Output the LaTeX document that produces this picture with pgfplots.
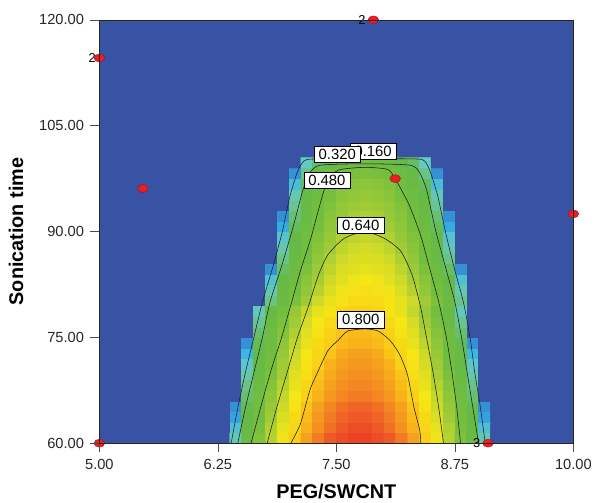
\documentclass[border=0pt]{standalone}
\usepackage{fontspec}
\setmainfont{Liberation Sans}
\usepackage{pgfplots}
\pgfplotsset{compat=1.18}
\definecolor{bgblue}{RGB}{57,83,164}
\definecolor{dotred}{RGB}{236,30,36}
\definecolor{dotedge}{RGB}{150,20,20}
\definecolor{navyline}{RGB}{20,28,70}
\tikzset{
  cline/.style={black!90, line width=0.55bp, smooth, tension=0.4},
  clab/.style={fill=white, draw=black, line width=0.5bp, inner xsep=4.5bp, inner ysep=2.8bp, font=\fontsize{15}{15}\selectfont},
}
\begin{document}
\begin{tikzpicture}
\begin{axis}[
  at={(0,0)}, anchor=south west,
  scale only axis, width=477bp, height=426bp,
  xmin=5, xmax=10, ymin=60, ymax=120,
  xtick={5,6.25,7.5,8.75,10}, xticklabels={5.00,6.25,7.50,8.75,10.00},
  ytick={60,75,90,105,120}, yticklabels={60.00,75.00,90.00,105.00,120.00},
  tick align=outside, major tick length=9bp, xtick pos=bottom, ytick pos=left,
  tick style={color=black!70, line width=0.6bp},
  axis line style={line width=0.7bp, black!85},
  tick label style={font=\fontsize{14.8}{16}\selectfont, color=black!85},
  xticklabel style={yshift=-4bp},
  yticklabel style={xshift=-3bp},
  xlabel={PEG/SWCNT}, ylabel={Sonication time},
  every axis x label/.style={at={(axis description cs:0.5,-0.114)}, anchor=center, font=\bfseries\fontsize{20}{22}\selectfont},
  every axis y label/.style={at={(axis description cs:-0.176,0.5)}, anchor=center, rotate=90, font=\bfseries\fontsize{20}{22}\selectfont},
  axis background/.style={fill=bgblue},
  colormap={dx}{rgb255(0pt)=(57,83,164); rgb255(6pt)=(52,128,202); rgb255(12pt)=(55,180,228); rgb255(19pt)=(100,200,195); rgb255(26pt)=(105,195,135); rgb255(33pt)=(100,185,72); rgb255(50pt)=(115,190,62); rgb255(60pt)=(160,203,55); rgb255(66pt)=(205,218,42); rgb255(72pt)=(245,230,22); rgb255(78pt)=(250,205,22); rgb255(82pt)=(247,170,28); rgb255(86pt)=(244,135,34); rgb255(89pt)=(240,100,40); rgb255(93pt)=(233,55,38)},
  point meta min=0, point meta max=0.93,
  clip=false, set layers, axis on top,
]
\addplot[matrix plot*, mesh/cols=24, point meta=explicit] table[x index=0, y index=1, meta index=2, row sep=\\] {
6.3125 60.75 0\\ 6.4375 60.75 0.21\\ 6.5625 60.75 0.40\\ 6.6875 60.75 0.53\\ 6.8125 60.75 0.63\\ 6.9375 60.75 0.71\\ 7.0625 60.75 0.78\\ 7.1875 60.75 0.83\\ 7.3125 60.75 0.87\\ 7.4375 60.75 0.90\\ 7.5625 60.75 0.91\\ 7.6875 60.75 0.92\\ 7.8125 60.75 0.92\\ 7.9375 60.75 0.91\\ 8.0625 60.75 0.90\\ 8.1875 60.75 0.87\\ 8.3125 60.75 0.83\\ 8.4375 60.75 0.78\\ 8.5625 60.75 0.71\\ 8.6875 60.75 0.63\\ 8.8125 60.75 0.53\\ 8.9375 60.75 0.40\\ 9.0625 60.75 0.21\\ 9.1875 60.75 0\\
6.3125 62.25 0\\ 6.4375 62.25 0.16\\ 6.5625 62.25 0.37\\ 6.6875 62.25 0.51\\ 6.8125 62.25 0.62\\ 6.9375 62.25 0.70\\ 7.0625 62.25 0.76\\ 7.1875 62.25 0.81\\ 7.3125 62.25 0.85\\ 7.4375 62.25 0.88\\ 7.5625 62.25 0.90\\ 7.6875 62.25 0.91\\ 7.8125 62.25 0.91\\ 7.9375 62.25 0.90\\ 8.0625 62.25 0.88\\ 8.1875 62.25 0.85\\ 8.3125 62.25 0.81\\ 8.4375 62.25 0.76\\ 8.5625 62.25 0.70\\ 8.6875 62.25 0.62\\ 8.8125 62.25 0.51\\ 8.9375 62.25 0.37\\ 9.0625 62.25 0.16\\ 9.1875 62.25 0\\
6.3125 63.75 0\\ 6.4375 63.75 0.10\\ 6.5625 63.75 0.34\\ 6.6875 63.75 0.49\\ 6.8125 63.75 0.60\\ 6.9375 63.75 0.68\\ 7.0625 63.75 0.75\\ 7.1875 63.75 0.80\\ 7.3125 63.75 0.84\\ 7.4375 63.75 0.87\\ 7.5625 63.75 0.89\\ 7.6875 63.75 0.90\\ 7.8125 63.75 0.90\\ 7.9375 63.75 0.89\\ 8.0625 63.75 0.87\\ 8.1875 63.75 0.84\\ 8.3125 63.75 0.80\\ 8.4375 63.75 0.75\\ 8.5625 63.75 0.68\\ 8.6875 63.75 0.60\\ 8.8125 63.75 0.49\\ 8.9375 63.75 0.34\\ 9.0625 63.75 0.10\\ 9.1875 63.75 0\\
6.3125 65.25 0\\ 6.4375 65.25 0.08\\ 6.5625 65.25 0.32\\ 6.6875 65.25 0.47\\ 6.8125 65.25 0.58\\ 6.9375 65.25 0.66\\ 7.0625 65.25 0.73\\ 7.1875 65.25 0.79\\ 7.3125 65.25 0.83\\ 7.4375 65.25 0.86\\ 7.5625 65.25 0.88\\ 7.6875 65.25 0.89\\ 7.8125 65.25 0.89\\ 7.9375 65.25 0.88\\ 8.0625 65.25 0.86\\ 8.1875 65.25 0.83\\ 8.3125 65.25 0.79\\ 8.4375 65.25 0.73\\ 8.5625 65.25 0.66\\ 8.6875 65.25 0.58\\ 8.8125 65.25 0.47\\ 8.9375 65.25 0.32\\ 9.0625 65.25 0.08\\ 9.1875 65.25 0\\
6.3125 66.75 0\\ 6.4375 66.75 0\\ 6.5625 66.75 0.29\\ 6.6875 66.75 0.45\\ 6.8125 66.75 0.56\\ 6.9375 66.75 0.65\\ 7.0625 66.75 0.72\\ 7.1875 66.75 0.77\\ 7.3125 66.75 0.81\\ 7.4375 66.75 0.84\\ 7.5625 66.75 0.86\\ 7.6875 66.75 0.87\\ 7.8125 66.75 0.87\\ 7.9375 66.75 0.86\\ 8.0625 66.75 0.84\\ 8.1875 66.75 0.81\\ 8.3125 66.75 0.77\\ 8.4375 66.75 0.72\\ 8.5625 66.75 0.65\\ 8.6875 66.75 0.56\\ 8.8125 66.75 0.45\\ 8.9375 66.75 0.29\\ 9.0625 66.75 0\\ 9.1875 66.75 0\\
6.3125 68.25 0\\ 6.4375 68.25 0\\ 6.5625 68.25 0.26\\ 6.6875 68.25 0.42\\ 6.8125 68.25 0.54\\ 6.9375 68.25 0.63\\ 7.0625 68.25 0.70\\ 7.1875 68.25 0.76\\ 7.3125 68.25 0.80\\ 7.4375 68.25 0.83\\ 7.5625 68.25 0.85\\ 7.6875 68.25 0.86\\ 7.8125 68.25 0.86\\ 7.9375 68.25 0.85\\ 8.0625 68.25 0.83\\ 8.1875 68.25 0.80\\ 8.3125 68.25 0.76\\ 8.4375 68.25 0.70\\ 8.5625 68.25 0.63\\ 8.6875 68.25 0.54\\ 8.8125 68.25 0.42\\ 8.9375 68.25 0.26\\ 9.0625 68.25 0\\ 9.1875 68.25 0\\
6.3125 69.75 0\\ 6.4375 69.75 0\\ 6.5625 69.75 0.22\\ 6.6875 69.75 0.40\\ 6.8125 69.75 0.52\\ 6.9375 69.75 0.61\\ 7.0625 69.75 0.69\\ 7.1875 69.75 0.74\\ 7.3125 69.75 0.79\\ 7.4375 69.75 0.82\\ 7.5625 69.75 0.84\\ 7.6875 69.75 0.85\\ 7.8125 69.75 0.85\\ 7.9375 69.75 0.84\\ 8.0625 69.75 0.82\\ 8.1875 69.75 0.79\\ 8.3125 69.75 0.74\\ 8.4375 69.75 0.69\\ 8.5625 69.75 0.61\\ 8.6875 69.75 0.52\\ 8.8125 69.75 0.40\\ 8.9375 69.75 0.22\\ 9.0625 69.75 0\\ 9.1875 69.75 0\\
6.3125 71.25 0\\ 6.4375 71.25 0\\ 6.5625 71.25 0.18\\ 6.6875 71.25 0.37\\ 6.8125 71.25 0.50\\ 6.9375 71.25 0.60\\ 7.0625 71.25 0.67\\ 7.1875 71.25 0.73\\ 7.3125 71.25 0.77\\ 7.4375 71.25 0.81\\ 7.5625 71.25 0.83\\ 7.6875 71.25 0.84\\ 7.8125 71.25 0.84\\ 7.9375 71.25 0.83\\ 8.0625 71.25 0.81\\ 8.1875 71.25 0.77\\ 8.3125 71.25 0.73\\ 8.4375 71.25 0.67\\ 8.5625 71.25 0.60\\ 8.6875 71.25 0.50\\ 8.8125 71.25 0.37\\ 8.9375 71.25 0.18\\ 9.0625 71.25 0\\ 9.1875 71.25 0\\
6.3125 72.75 0\\ 6.4375 72.75 0\\ 6.5625 72.75 0.13\\ 6.6875 72.75 0.35\\ 6.8125 72.75 0.48\\ 6.9375 72.75 0.58\\ 7.0625 72.75 0.66\\ 7.1875 72.75 0.72\\ 7.3125 72.75 0.76\\ 7.4375 72.75 0.79\\ 7.5625 72.75 0.82\\ 7.6875 72.75 0.83\\ 7.8125 72.75 0.83\\ 7.9375 72.75 0.82\\ 8.0625 72.75 0.79\\ 8.1875 72.75 0.76\\ 8.3125 72.75 0.72\\ 8.4375 72.75 0.66\\ 8.5625 72.75 0.58\\ 8.6875 72.75 0.48\\ 8.8125 72.75 0.35\\ 8.9375 72.75 0.13\\ 9.0625 72.75 0\\ 9.1875 72.75 0\\
6.3125 74.25 0\\ 6.4375 74.25 0\\ 6.5625 74.25 0.08\\ 6.6875 74.25 0.32\\ 6.8125 74.25 0.46\\ 6.9375 74.25 0.56\\ 7.0625 74.25 0.64\\ 7.1875 74.25 0.70\\ 7.3125 74.25 0.75\\ 7.4375 74.25 0.78\\ 7.5625 74.25 0.80\\ 7.6875 74.25 0.81\\ 7.8125 74.25 0.81\\ 7.9375 74.25 0.80\\ 8.0625 74.25 0.78\\ 8.1875 74.25 0.75\\ 8.3125 74.25 0.70\\ 8.4375 74.25 0.64\\ 8.5625 74.25 0.56\\ 8.6875 74.25 0.46\\ 8.8125 74.25 0.32\\ 8.9375 74.25 0.08\\ 9.0625 74.25 0\\ 9.1875 74.25 0\\
6.3125 75.75 0\\ 6.4375 75.75 0\\ 6.5625 75.75 0\\ 6.6875 75.75 0.29\\ 6.8125 75.75 0.44\\ 6.9375 75.75 0.54\\ 7.0625 75.75 0.62\\ 7.1875 75.75 0.69\\ 7.3125 75.75 0.73\\ 7.4375 75.75 0.77\\ 7.5625 75.75 0.79\\ 7.6875 75.75 0.80\\ 7.8125 75.75 0.80\\ 7.9375 75.75 0.79\\ 8.0625 75.75 0.77\\ 8.1875 75.75 0.73\\ 8.3125 75.75 0.69\\ 8.4375 75.75 0.62\\ 8.5625 75.75 0.54\\ 8.6875 75.75 0.44\\ 8.8125 75.75 0.29\\ 8.9375 75.75 0\\ 9.0625 75.75 0\\ 9.1875 75.75 0\\
6.3125 77.25 0\\ 6.4375 77.25 0\\ 6.5625 77.25 0\\ 6.6875 77.25 0.25\\ 6.8125 77.25 0.41\\ 6.9375 77.25 0.52\\ 7.0625 77.25 0.60\\ 7.1875 77.25 0.67\\ 7.3125 77.25 0.72\\ 7.4375 77.25 0.75\\ 7.5625 77.25 0.77\\ 7.6875 77.25 0.79\\ 7.8125 77.25 0.79\\ 7.9375 77.25 0.77\\ 8.0625 77.25 0.75\\ 8.1875 77.25 0.72\\ 8.3125 77.25 0.67\\ 8.4375 77.25 0.60\\ 8.5625 77.25 0.52\\ 8.6875 77.25 0.41\\ 8.8125 77.25 0.25\\ 8.9375 77.25 0\\ 9.0625 77.25 0\\ 9.1875 77.25 0\\
6.3125 78.75 0\\ 6.4375 78.75 0\\ 6.5625 78.75 0\\ 6.6875 78.75 0.20\\ 6.8125 78.75 0.38\\ 6.9375 78.75 0.49\\ 7.0625 78.75 0.58\\ 7.1875 78.75 0.65\\ 7.3125 78.75 0.70\\ 7.4375 78.75 0.73\\ 7.5625 78.75 0.76\\ 7.6875 78.75 0.77\\ 7.8125 78.75 0.77\\ 7.9375 78.75 0.76\\ 8.0625 78.75 0.73\\ 8.1875 78.75 0.70\\ 8.3125 78.75 0.65\\ 8.4375 78.75 0.58\\ 8.5625 78.75 0.49\\ 8.6875 78.75 0.38\\ 8.8125 78.75 0.20\\ 8.9375 78.75 0\\ 9.0625 78.75 0\\ 9.1875 78.75 0\\
6.3125 80.25 0\\ 6.4375 80.25 0\\ 6.5625 80.25 0\\ 6.6875 80.25 0\\ 6.8125 80.25 0.26\\ 6.9375 80.25 0.41\\ 7.0625 80.25 0.52\\ 7.1875 80.25 0.60\\ 7.3125 80.25 0.66\\ 7.4375 80.25 0.70\\ 7.5625 80.25 0.73\\ 7.6875 80.25 0.75\\ 7.8125 80.25 0.75\\ 7.9375 80.25 0.75\\ 8.0625 80.25 0.73\\ 8.1875 80.25 0.70\\ 8.3125 80.25 0.66\\ 8.4375 80.25 0.60\\ 8.5625 80.25 0.52\\ 8.6875 80.25 0.41\\ 8.8125 80.25 0.26\\ 8.9375 80.25 0\\ 9.0625 80.25 0\\ 9.1875 80.25 0\\
6.3125 81.75 0\\ 6.4375 81.75 0\\ 6.5625 81.75 0\\ 6.6875 81.75 0\\ 6.8125 81.75 0.21\\ 6.9375 81.75 0.38\\ 7.0625 81.75 0.49\\ 7.1875 81.75 0.57\\ 7.3125 81.75 0.63\\ 7.4375 81.75 0.68\\ 7.5625 81.75 0.71\\ 7.6875 81.75 0.73\\ 7.8125 81.75 0.74\\ 7.9375 81.75 0.73\\ 8.0625 81.75 0.71\\ 8.1875 81.75 0.68\\ 8.3125 81.75 0.63\\ 8.4375 81.75 0.57\\ 8.5625 81.75 0.49\\ 8.6875 81.75 0.38\\ 8.8125 81.75 0.21\\ 8.9375 81.75 0\\ 9.0625 81.75 0\\ 9.1875 81.75 0\\
6.3125 83.25 0\\ 6.4375 83.25 0\\ 6.5625 83.25 0\\ 6.6875 83.25 0\\ 6.8125 83.25 0.16\\ 6.9375 83.25 0.34\\ 7.0625 83.25 0.46\\ 7.1875 83.25 0.55\\ 7.3125 83.25 0.61\\ 7.4375 83.25 0.66\\ 7.5625 83.25 0.69\\ 7.6875 83.25 0.71\\ 7.8125 83.25 0.72\\ 7.9375 83.25 0.71\\ 8.0625 83.25 0.69\\ 8.1875 83.25 0.66\\ 8.3125 83.25 0.61\\ 8.4375 83.25 0.55\\ 8.5625 83.25 0.46\\ 8.6875 83.25 0.34\\ 8.8125 83.25 0.16\\ 8.9375 83.25 0\\ 9.0625 83.25 0\\ 9.1875 83.25 0\\
6.3125 84.75 0\\ 6.4375 84.75 0\\ 6.5625 84.75 0\\ 6.6875 84.75 0\\ 6.8125 84.75 0.08\\ 6.9375 84.75 0.30\\ 7.0625 84.75 0.43\\ 7.1875 84.75 0.52\\ 7.3125 84.75 0.59\\ 7.4375 84.75 0.64\\ 7.5625 84.75 0.68\\ 7.6875 84.75 0.69\\ 7.8125 84.75 0.70\\ 7.9375 84.75 0.69\\ 8.0625 84.75 0.68\\ 8.1875 84.75 0.64\\ 8.3125 84.75 0.59\\ 8.4375 84.75 0.52\\ 8.5625 84.75 0.43\\ 8.6875 84.75 0.30\\ 8.8125 84.75 0.08\\ 8.9375 84.75 0\\ 9.0625 84.75 0\\ 9.1875 84.75 0\\
6.3125 86.25 0\\ 6.4375 86.25 0\\ 6.5625 86.25 0\\ 6.6875 86.25 0\\ 6.8125 86.25 0\\ 6.9375 86.25 0.26\\ 7.0625 86.25 0.40\\ 7.1875 86.25 0.50\\ 7.3125 86.25 0.57\\ 7.4375 86.25 0.62\\ 7.5625 86.25 0.66\\ 7.6875 86.25 0.68\\ 7.8125 86.25 0.68\\ 7.9375 86.25 0.68\\ 8.0625 86.25 0.66\\ 8.1875 86.25 0.62\\ 8.3125 86.25 0.57\\ 8.4375 86.25 0.50\\ 8.5625 86.25 0.40\\ 8.6875 86.25 0.26\\ 8.8125 86.25 0\\ 8.9375 86.25 0\\ 9.0625 86.25 0\\ 9.1875 86.25 0\\
6.3125 87.75 0\\ 6.4375 87.75 0\\ 6.5625 87.75 0\\ 6.6875 87.75 0\\ 6.8125 87.75 0\\ 6.9375 87.75 0.22\\ 7.0625 87.75 0.37\\ 7.1875 87.75 0.47\\ 7.3125 87.75 0.55\\ 7.4375 87.75 0.60\\ 7.5625 87.75 0.64\\ 7.6875 87.75 0.66\\ 7.8125 87.75 0.67\\ 7.9375 87.75 0.66\\ 8.0625 87.75 0.64\\ 8.1875 87.75 0.60\\ 8.3125 87.75 0.55\\ 8.4375 87.75 0.47\\ 8.5625 87.75 0.37\\ 8.6875 87.75 0.22\\ 8.8125 87.75 0\\ 8.9375 87.75 0\\ 9.0625 87.75 0\\ 9.1875 87.75 0\\
6.3125 89.25 0\\ 6.4375 89.25 0\\ 6.5625 89.25 0\\ 6.6875 89.25 0\\ 6.8125 89.25 0\\ 6.9375 89.25 0.17\\ 7.0625 89.25 0.34\\ 7.1875 89.25 0.45\\ 7.3125 89.25 0.53\\ 7.4375 89.25 0.58\\ 7.5625 89.25 0.62\\ 7.6875 89.25 0.64\\ 7.8125 89.25 0.65\\ 7.9375 89.25 0.64\\ 8.0625 89.25 0.62\\ 8.1875 89.25 0.58\\ 8.3125 89.25 0.53\\ 8.4375 89.25 0.45\\ 8.5625 89.25 0.34\\ 8.6875 89.25 0.17\\ 8.8125 89.25 0\\ 8.9375 89.25 0\\ 9.0625 89.25 0\\ 9.1875 89.25 0\\
6.3125 90.75 0\\ 6.4375 90.75 0\\ 6.5625 90.75 0\\ 6.6875 90.75 0\\ 6.8125 90.75 0\\ 6.9375 90.75 0.11\\ 7.0625 90.75 0.31\\ 7.1875 90.75 0.43\\ 7.3125 90.75 0.51\\ 7.4375 90.75 0.56\\ 7.5625 90.75 0.60\\ 7.6875 90.75 0.62\\ 7.8125 90.75 0.63\\ 7.9375 90.75 0.62\\ 8.0625 90.75 0.60\\ 8.1875 90.75 0.56\\ 8.3125 90.75 0.51\\ 8.4375 90.75 0.43\\ 8.5625 90.75 0.31\\ 8.6875 90.75 0.11\\ 8.8125 90.75 0\\ 8.9375 90.75 0\\ 9.0625 90.75 0\\ 9.1875 90.75 0\\
6.3125 92.25 0\\ 6.4375 92.25 0\\ 6.5625 92.25 0\\ 6.6875 92.25 0\\ 6.8125 92.25 0\\ 6.9375 92.25 0.08\\ 7.0625 92.25 0.28\\ 7.1875 92.25 0.40\\ 7.3125 92.25 0.49\\ 7.4375 92.25 0.55\\ 7.5625 92.25 0.58\\ 7.6875 92.25 0.61\\ 7.8125 92.25 0.62\\ 7.9375 92.25 0.61\\ 8.0625 92.25 0.58\\ 8.1875 92.25 0.55\\ 8.3125 92.25 0.49\\ 8.4375 92.25 0.40\\ 8.5625 92.25 0.28\\ 8.6875 92.25 0.08\\ 8.8125 92.25 0\\ 8.9375 92.25 0\\ 9.0625 92.25 0\\ 9.1875 92.25 0\\
6.3125 93.75 0\\ 6.4375 93.75 0\\ 6.5625 93.75 0\\ 6.6875 93.75 0\\ 6.8125 93.75 0\\ 6.9375 93.75 0\\ 7.0625 93.75 0.25\\ 7.1875 93.75 0.38\\ 7.3125 93.75 0.47\\ 7.4375 93.75 0.53\\ 7.5625 93.75 0.57\\ 7.6875 93.75 0.59\\ 7.8125 93.75 0.60\\ 7.9375 93.75 0.59\\ 8.0625 93.75 0.57\\ 8.1875 93.75 0.53\\ 8.3125 93.75 0.47\\ 8.4375 93.75 0.38\\ 8.5625 93.75 0.25\\ 8.6875 93.75 0\\ 8.8125 93.75 0\\ 8.9375 93.75 0\\ 9.0625 93.75 0\\ 9.1875 93.75 0\\
6.3125 95.25 0\\ 6.4375 95.25 0\\ 6.5625 95.25 0\\ 6.6875 95.25 0\\ 6.8125 95.25 0\\ 6.9375 95.25 0\\ 7.0625 95.25 0.21\\ 7.1875 95.25 0.35\\ 7.3125 95.25 0.44\\ 7.4375 95.25 0.51\\ 7.5625 95.25 0.55\\ 7.6875 95.25 0.57\\ 7.8125 95.25 0.58\\ 7.9375 95.25 0.57\\ 8.0625 95.25 0.55\\ 8.1875 95.25 0.51\\ 8.3125 95.25 0.44\\ 8.4375 95.25 0.35\\ 8.5625 95.25 0.21\\ 8.6875 95.25 0\\ 8.8125 95.25 0\\ 8.9375 95.25 0\\ 9.0625 95.25 0\\ 9.1875 95.25 0\\
6.3125 96.75 0\\ 6.4375 96.75 0\\ 6.5625 96.75 0\\ 6.6875 96.75 0\\ 6.8125 96.75 0\\ 6.9375 96.75 0\\ 7.0625 96.75 0.15\\ 7.1875 96.75 0.31\\ 7.3125 96.75 0.41\\ 7.4375 96.75 0.48\\ 7.5625 96.75 0.53\\ 7.6875 96.75 0.55\\ 7.8125 96.75 0.56\\ 7.9375 96.75 0.55\\ 8.0625 96.75 0.53\\ 8.1875 96.75 0.48\\ 8.3125 96.75 0.41\\ 8.4375 96.75 0.31\\ 8.5625 96.75 0.15\\ 8.6875 96.75 0\\ 8.8125 96.75 0\\ 8.9375 96.75 0\\ 9.0625 96.75 0\\ 9.1875 96.75 0\\
6.3125 98.25 0\\ 6.4375 98.25 0\\ 6.5625 98.25 0\\ 6.6875 98.25 0\\ 6.8125 98.25 0\\ 6.9375 98.25 0\\ 7.0625 98.25 0.08\\ 7.1875 98.25 0.26\\ 7.3125 98.25 0.37\\ 7.4375 98.25 0.44\\ 7.5625 98.25 0.49\\ 7.6875 98.25 0.51\\ 7.8125 98.25 0.52\\ 7.9375 98.25 0.51\\ 8.0625 98.25 0.49\\ 8.1875 98.25 0.44\\ 8.3125 98.25 0.37\\ 8.4375 98.25 0.26\\ 8.5625 98.25 0.08\\ 8.6875 98.25 0\\ 8.8125 98.25 0\\ 8.9375 98.25 0\\ 9.0625 98.25 0\\ 9.1875 98.25 0\\
6.3125 99.75 0\\ 6.4375 99.75 0\\ 6.5625 99.75 0\\ 6.6875 99.75 0\\ 6.8125 99.75 0\\ 6.9375 99.75 0\\ 7.0625 99.75 0\\ 7.1875 99.75 0.19\\ 7.3125 99.75 0.30\\ 7.4375 99.75 0.37\\ 7.5625 99.75 0.42\\ 7.6875 99.75 0.44\\ 7.8125 99.75 0.45\\ 7.9375 99.75 0.44\\ 8.0625 99.75 0.42\\ 8.1875 99.75 0.37\\ 8.3125 99.75 0.30\\ 8.4375 99.75 0.19\\ 8.5625 99.75 0\\ 8.6875 99.75 0\\ 8.8125 99.75 0\\ 8.9375 99.75 0\\ 9.0625 99.75 0\\ 9.1875 99.75 0\\
};
% contour 0.16
\addplot[cline, navyline] coordinates {(6.39,60) (6.46,65) (6.54,70) (6.63,75) (6.72,80) (6.83,85) (6.93,90) (7.01,95) (7.09,98.5) (7.16,100) (7.3,100.3) (8.3,100.3) (8.43,100) (8.49,98.5) (8.57,95) (8.65,90) (8.74,85) (8.84,80) (8.91,75) (8.96,70) (9.02,65) (9.07,60)};
% contour 0.32
\addplot[cline] coordinates {(6.46,60) (6.54,65) (6.63,70) (6.72,75) (6.80,80) (6.92,85) (7.03,90) (7.09,93) (7.15,96) (7.22,98.3) (7.33,99.4) (7.8,99.6) (8.28,99.4) (8.38,98.3) (8.45,96) (8.50,93) (8.55,90) (8.65,85) (8.75,80) (8.82,75) (8.88,70) (8.94,65) (9.00,60)};
% contour 0.48
\addplot[cline] coordinates {(6.60,60) (6.71,65.5) (6.81,70.3) (6.92,74.9) (7.02,79.6) (7.12,84.4) (7.23,89) (7.31,93) (7.40,97) (7.52,98.7) (7.8,99.1) (8.04,98.8) (8.12,97.5) (8.27,93.7) (8.39,89.4) (8.48,85) (8.58,80) (8.66,75) (8.72,70) (8.77,65) (8.81,60)};
% contour 0.64
\addplot[cline] coordinates {(6.77,60) (6.87,65) (6.98,70) (7.09,75) (7.20,79.2) (7.31,83.8) (7.41,86.7) (7.58,89.0) (7.80,90.0) (8.01,89.0) (8.18,87.2) (8.30,83.8) (8.39,79.2) (8.45,75) (8.52,70) (8.58,65) (8.63,60)};
% contour 0.80
\addplot[cline] coordinates {(7.02,60) (7.12,62.7) (7.22,67.5) (7.29,69.7) (7.41,73.1) (7.52,74.6) (7.62,75.9) (7.80,76.2) (7.94,75.9) (8.07,74.5) (8.17,72.5) (8.25,69.7) (8.32,65) (8.38,61.8) (8.39,60)};
% contour labels
\node[clab] at (axis cs:7.888,101.34) {0.160};
\node[clab] at (axis cs:7.51,100.9) {0.320};
\node[clab] at (axis cs:7.40,97.3) {0.480};
\node[clab] at (axis cs:7.757,90.9) {0.640};
\node[clab] at (axis cs:7.757,77.5) {0.800};
% design points
\addplot[only marks, mark=*, mark size=4bp, mark options={xscale=1.35, fill=dotred, draw=dotedge, line width=0.4bp}, on layer=axis foreground] coordinates {(5,114.6) (7.89,120) (5.46,96.1) (8.12,97.5) (10,92.5) (5,60) (9.10,60)};
\node[anchor=east, font=\fontsize{13}{13}\selectfont, inner sep=0pt] at (axis cs:4.965,114.6) {2};
\node[anchor=east, font=\fontsize{13}{13}\selectfont, inner sep=0pt] at (axis cs:7.81,120) {2};
\node[anchor=east, font=\fontsize{13}{13}\selectfont, inner sep=0pt] at (axis cs:9.02,60) {3};
\end{axis}
\path (-100bp,-58bp) rectangle (495bp,446bp);
\end{tikzpicture}
\end{document}
